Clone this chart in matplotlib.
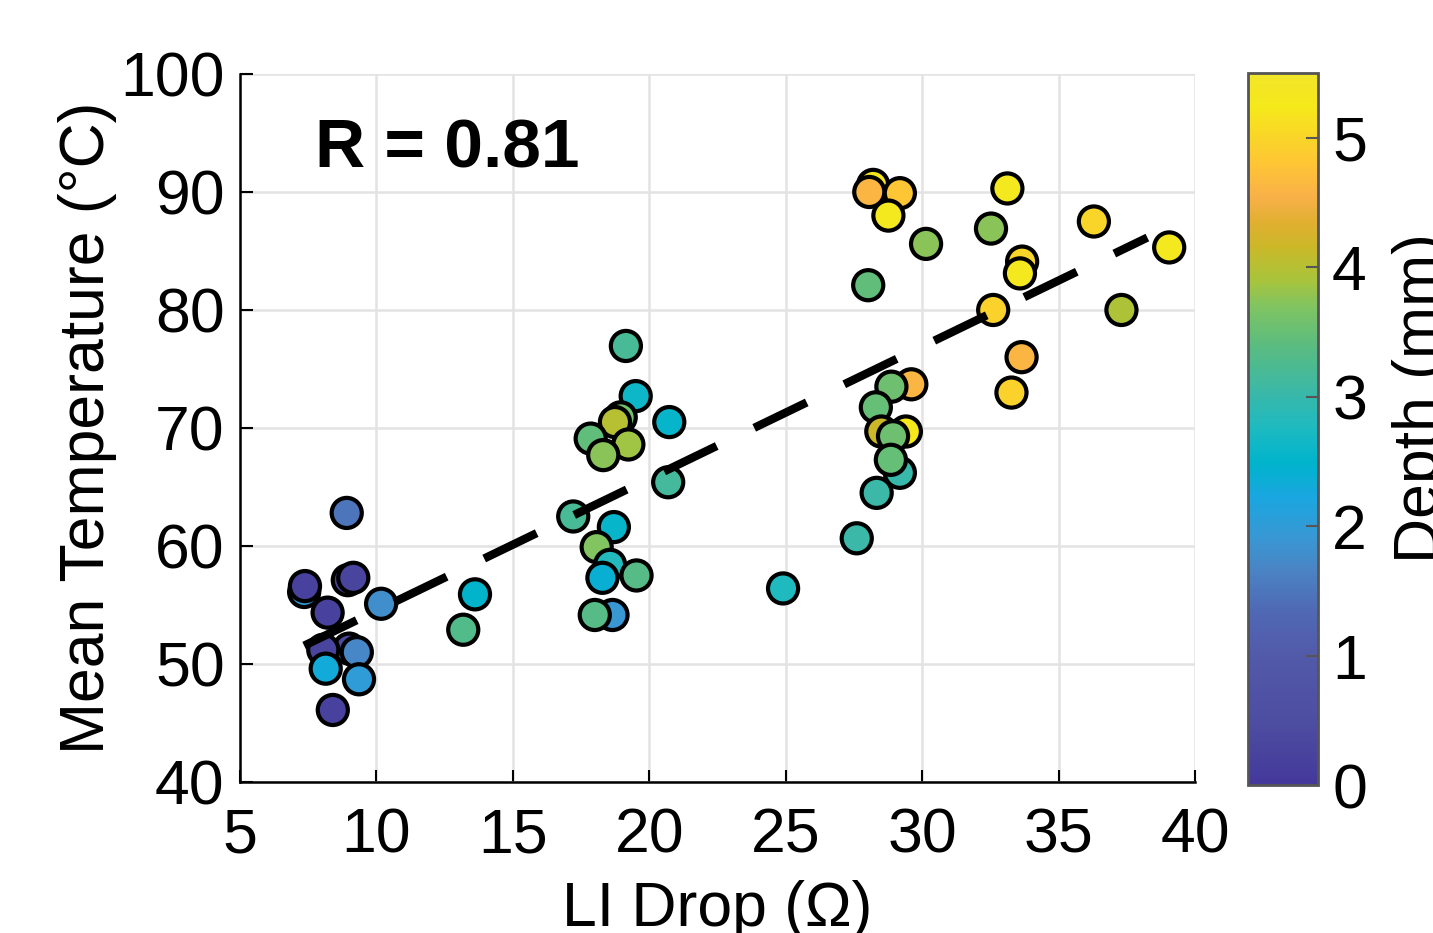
import numpy as np
import matplotlib
matplotlib.use("Agg")
import matplotlib.pyplot as plt
from matplotlib.colors import LinearSegmentedColormap

plt.rcParams['font.family'] = ['Liberation Sans', 'DejaVu Sans']

# LI drop (ohm), mean temperature (C), depth (mm)
li_drop = [7.35, 7.38, 8.95, 9.15, 8.91, 10.17, 8.21, 9.0, 8.05, 9.28, 8.14, 9.36, 8.4,
           13.61, 13.18, 19.14, 19.5, 20.73, 18.95, 18.74, 17.85, 19.23, 18.31, 20.69,
           17.21, 18.7, 18.07, 18.56, 18.28, 19.53, 18.65, 18.0, 24.9,
           28.2, 28.06, 29.18, 28.76, 30.14, 28.02, 29.6, 28.87, 28.3, 29.4, 28.5,
           29.18, 28.93, 28.85, 28.33, 27.6,
           33.12, 32.52, 36.29, 39.05, 33.66, 33.58, 32.6, 37.3, 33.64, 33.27]
mean_temp = [56.1, 56.6, 57.1, 57.3, 62.8, 55.1, 54.35, 51.3, 51.2, 51.0, 49.6, 48.7, 46.1,
             55.9, 52.9, 76.95, 72.7, 70.5, 70.9, 70.5, 69.1, 68.6, 67.7, 65.4,
             62.5, 61.6, 59.9, 58.4, 57.3, 57.5, 54.15, 54.15, 56.4,
             90.6, 90.0, 89.9, 88.0, 85.6, 82.1, 73.7, 73.5, 71.75, 69.7, 69.7,
             66.2, 69.3, 67.3, 64.5, 60.65,
             90.3, 86.9, 87.5, 85.3, 84.1, 83.1, 80.0, 80.0, 76.0, 73.0]
depth = [2.0, 0.2, 0.3, 0.3, 1.5, 1.8, 0.2, 0.4, 0.3, 1.7, 2.3, 2.0, 0.2,
         2.5, 3.3, 3.2, 2.6, 2.55, 3.6, 4.0, 3.45, 3.85, 3.75, 3.15,
         3.2, 2.55, 3.7, 2.8, 2.4, 3.35, 1.9, 3.35, 2.75,
         5.2, 4.6, 4.8, 5.3, 3.75, 3.45, 4.6, 3.55, 3.5, 5.25, 4.15,
         3.0, 3.55, 3.5, 3.05, 3.05,
         5.3, 3.75, 5.0, 5.3, 5.0, 5.3, 4.95, 3.95, 4.6, 4.95]

x_ticks = [5, 10, 15, 20, 25, 30, 35, 40]
y_ticks = [40, 50, 60, 70, 80, 90, 100]
cbar_ticks = [0, 1, 2, 3, 4, 5]

# parula-like colormap sampled from the colorbar
cmap_pos = [0.0, 0.077, 0.171, 0.242, 0.302, 0.348, 0.404, 0.452, 0.504, 0.551,
            0.617, 0.673, 0.709, 0.757, 0.789, 0.827, 0.874, 0.954, 1.0]
cmap_cols = ['#44389a', '#4c4ca0', '#5258a8', '#5068b4', '#4a84c4', '#3898d4', '#1aa6e0',
             '#00b4cc', '#1fbac0', '#3ab8a8', '#5abc80', '#80c462', '#a8c43c', '#cbb828',
             '#dfb030', '#f8b048', '#fec535', '#f5e81a', '#f2e62a']
parula = LinearSegmentedColormap.from_list('parula_ish', list(zip(cmap_pos, cmap_cols)))

fs = 45

fig = plt.figure(figsize=(14.33, 9.33), dpi=100)
ax = fig.add_axes([0.1675, 0.1619, 0.6665, 0.7588])

sc = ax.scatter(li_drop, mean_temp, c=depth, cmap=parula, vmin=0, vmax=5.5,
                s=470, edgecolors='black', linewidths=3, zorder=3)

# linear fit
coef = np.polyfit(li_drop, mean_temp, 1)
xf = np.array([min(li_drop), max(li_drop) - 0.8])
ax.plot(xf, np.polyval(coef, xf), color='black', lw=6, dashes=(7, 5), zorder=4)

ax.text(7.75, 92.1, 'R = 0.81', fontsize=50, fontweight='bold', ha='left', va='baseline')

ax.set_xlim(5, 40)
ax.set_ylim(40, 100)
ax.set_xticks(x_ticks)
ax.set_yticks(y_ticks)
ax.tick_params(direction='in', length=9, width=1.5, labelsize=fs)
ax.tick_params(axis='x', pad=18)
ax.tick_params(axis='y', pad=11)
ax.grid(True, color='#e3e3e3', lw=1.8)
ax.set_axisbelow(True)
for s in ['top', 'right']:
    ax.spines[s].set_visible(False)
for s in ['left', 'bottom']:
    ax.spines[s].set_linewidth(1.8)

ax.set_xlabel('LI Drop (\u03a9)', fontsize=fs, labelpad=10)
ax.set_ylabel('Mean Temperature (\u00b0C)', fontsize=fs, labelpad=2)

cax = fig.add_axes([0.871, 0.1586, 0.0489, 0.763])
cb = fig.colorbar(sc, cax=cax, ticks=cbar_ticks)
cb.outline.set_edgecolor('#555555')
cb.outline.set_linewidth(2)
cax.tick_params(direction='in', length=9, width=1.5, labelsize=fs, color='#555555', pad=10)
fig.text(0.992, 0.573, 'Depth (mm)', rotation=90, fontsize=fs, ha='center', va='center')

fig.savefig('out.png', dpi=100)
